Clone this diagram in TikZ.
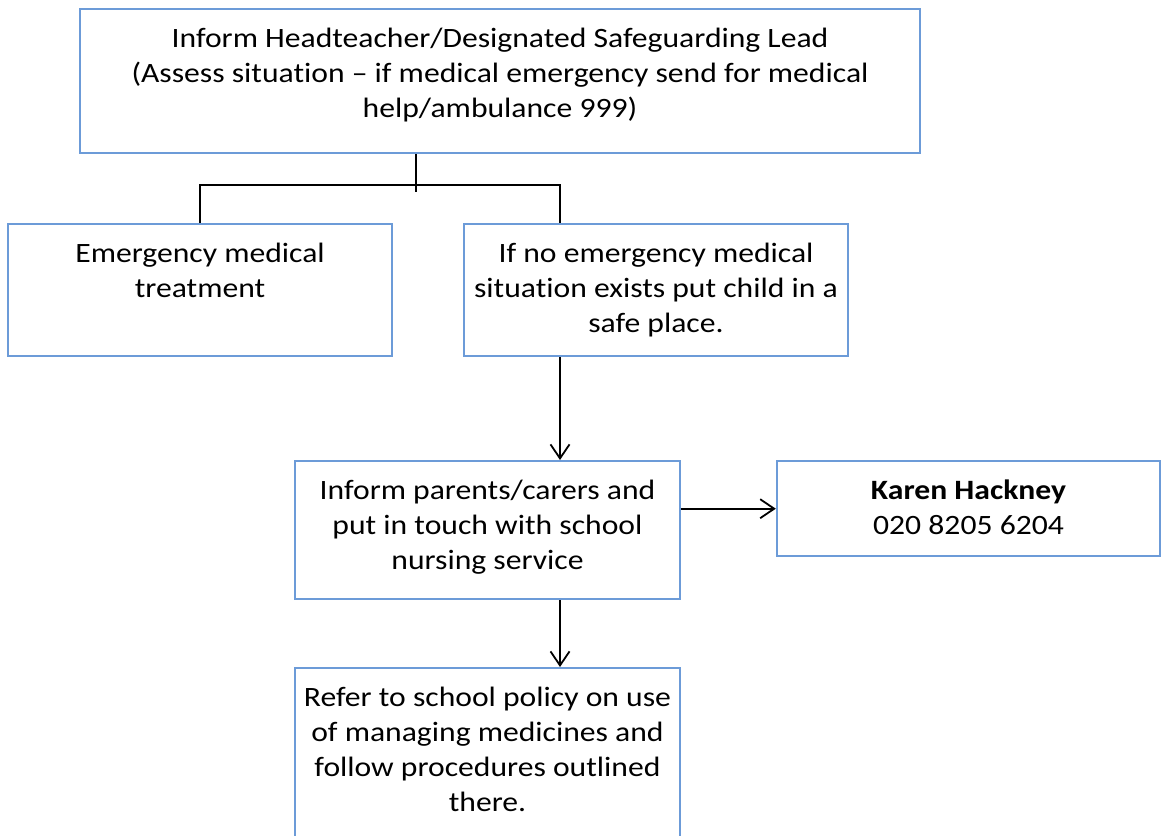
\documentclass[tikz,border=0pt]{standalone}
\usepackage{fontspec}
\setmainfont{Carlito}[FakeStretch=1.13, Ligatures=NoCommon]
\usetikzlibrary{arrows.meta}
\definecolor{boxblue}{RGB}{108,155,216}
\begin{document}
\begin{tikzpicture}[x=0.5pt, y=-0.5pt,
    stepbox/.style={draw=boxblue, line width=1.2pt, inner sep=0pt, anchor=north,
      font=\fontsize{14}{17.5}\selectfont},
    link/.style={line width=0.9pt},
    arr/.style={line width=0.9pt, -{Straight Barb[length=7pt, width=9.5pt]}}]
  \useasboundingbox (0,0) rectangle (1161,835);
  \clip (0,0) rectangle (1161,835);
  \node[stepbox] (inform) at (500,8) {\parbox[t][72pt][t]{420pt}{\centering
      \rule{0pt}{19pt}Inform Headteacher/Designated Safeguarding Lead\\
      (Assess situation -- if medical emergency send for medical\\
      help/ambulance 999)}};
  \node[stepbox] (treat) at (200,223) {\parbox[t][66pt][t]{192pt}{\centering
      \rule{0pt}{19pt}Emergency medical\\ treatment}};
  \node[stepbox] (safe) at (656,223) {\parbox[t][66pt][t]{192pt}{\centering
      \rule{0pt}{19pt}If no emergency medical\\ situation exists put child in a\\ safe place.}};
  \node[stepbox] (parents) at (487.5,460) {\parbox[t][69pt][t]{192.5pt}{\centering
      \rule{0pt}{19pt}Inform parents/carers and\\ put in touch with school\\ nursing service}};
  \node[stepbox] (karen) at (968.5,460) {\parbox[t][47.5pt][t]{191.5pt}{\centering
      \rule{0pt}{19pt}\textbf{Karen Hackney}\\ 020 8205 6204}};
  \node[stepbox] (policy) at (487.5,667) {\parbox[t][95pt][t]{192.5pt}{\centering
      \rule{0pt}{19pt}Refer to school policy on use\\ of managing medicines and\\
      follow procedures outlined\\ there.}};
  \coordinate (stub) at (416,192);
  \coordinate (jl) at (200,185);
  \coordinate (jr) at (560,185);
  \draw[link] (inform.south -| stub) -- (stub);
  \draw[link] (treat.north) -- (jl) -- (jr) -- (jr |- safe.north);
  \draw[arr] (safe.south -| jr) -- (parents.north -| jr);
  \draw[arr] (parents.east |- karen.west) -- (karen.west);
  \draw[arr] (parents.south -| jr) -- (policy.north -| jr);
\end{tikzpicture}
\end{document}
